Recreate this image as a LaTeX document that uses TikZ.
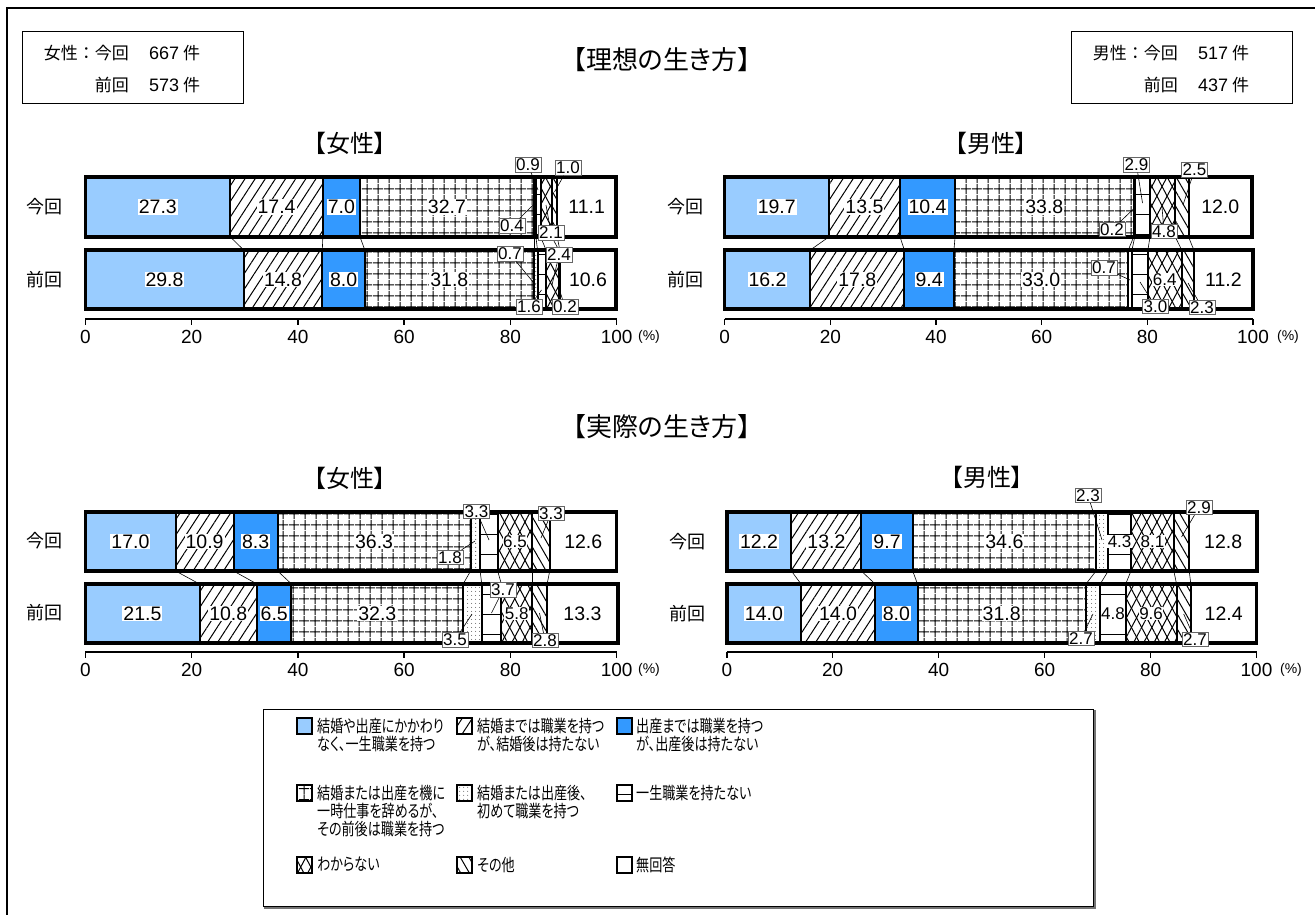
\documentclass[tikz,border=0pt]{standalone}
\usepackage{fontspec}
\setmainfont{Noto Sans CJK JP}[RawFeature=+palt]
\newfontfamily\jpf{Noto Sans CJK JP}
\newfontfamily\legf{Noto Sans CJK JP}[FakeStretch=0.77,RawFeature=+palt]
\newfontfamily\numf{Liberation Sans}
\usetikzlibrary{patterns.meta}
\definecolor{lblue}{HTML}{99CCFF}
\definecolor{dblue}{HTML}{3399FF}
\newcommand\fsz[1]{\fontsize{#1}{#1}\selectfont}
\tikzset{
 segbase/.style={draw=black,line width=2pt},
 seg1/.style={segbase,fill=lblue},
 seg2/.style={segbase,pattern={Lines[angle=57,distance=8.5pt,line width=1pt]}},
 seg3/.style={segbase,fill=dblue},
 seg4/.style={segbase,pattern={Hatch[angle=0,distance=10.5pt,line width=1pt]}},
 seg5/.style={segbase,pattern={Dots[distance=4pt,radius=0.5pt]}},
 seg6/.style={segbase,pattern={Lines[angle=0,distance=20pt,line width=1pt]}},
 seg7/.style={segbase,pattern={Lines[angle=62,distance=9pt,line width=1pt]},postaction={pattern={Lines[angle=-62,distance=9pt,line width=1pt]}}},
 seg8/.style={segbase,pattern={Lines[angle=-60,distance=7.5pt,line width=1pt]}},
 seg9/.style={segbase,fill=white},
 edge/.style={line width=3.5pt,line cap=rect},
 inlab/.style={fill=white,inner sep=1pt,font=\numf\fsz{19.5}},
 inlabs/.style={fill=white,inner sep=0.5pt,font=\numf\fsz{17}},
 callout/.style={draw=black!60,line width=0.9pt,fill=white,inner sep=1.2pt,font=\numf\fsz{17}},
 leader/.style={line width=0.6pt},
 link/.style={line width=0.6pt},
 ticklab/.style={font=\numf\fsz{19},inner sep=0pt},
 pctlab/.style={font=\numf\fsz{14},inner sep=0pt},
 ylab/.style={font=\jpf\fsz{18}},
 ttl/.style={font=\fsz{26}},
 sttl/.style={font=\fsz{24}},
 boxtxt/.style={font=\jpf\fsz{17},inner sep=0pt},
 infobox/.style={draw=black,line width=1.2pt,minimum width=221pt,minimum height=72pt,anchor=north west,inner sep=0pt},
 legsq/.style={minimum width=15pt,minimum height=16pt,inner sep=0pt,anchor=north west},
 legtxt/.style={font={\legf\fontsize{17}{18}\selectfont},align=left,inner sep=0pt,anchor=north west},
}
\newcommand\drawbar[6]{%
  \xdef\cumv{0}%
  \foreach \v/\fl [count=\i] in {#6} {%
    \pgfmathsetmacro\xa{#2+#3*\cumv}%
    \pgfmathsetmacro\newc{\cumv+\v}%
    \pgfmathsetmacro\xb{#2+#3*\newc}%
    \global\let\cumv\newc
    \edef\tmp{\noexpand\path[seg\i] (\xa,#4) rectangle (\xb,#5);}\tmp
    \draw[edge] (\xa,#4) -- (\xb,#4) (\xa,#5) -- (\xb,#5);
    \ifnum\i=1 \draw[edge] (\xa,#4) -- (\xa,#5);\fi
    \ifnum\i=9 \draw[edge] (\xb,#4) -- (\xb,#5);\fi
  }%
  \xdef\cumv{0}%
  \foreach \v/\fl [count=\i] in {#6} {%
    \pgfmathsetmacro\xa{#2+#3*\cumv}%
    \pgfmathsetmacro\newc{\cumv+\v}%
    \pgfmathsetmacro\xb{#2+#3*\newc}%
    \global\let\cumv\newc
    \ifnum\fl=1 \node[inlab] (#1-\i) at ({(\xa+\xb)/2},{(#4+#5)/2}) {\v};\fi
    \ifnum\fl=2 \node[inlabs] (#1-\i) at ({(\xa+\xb)/2},{(#4+#5)/2}) {\v};\fi
  }%
}
\newcommand\links[5]{%
  \foreach \a/\b in {#5} {\draw[link] ({#1+#2*\a},#3) -- ({#1+#2*\b},#4);}%
}
\newcommand\xaxis[5]{%
  \draw[line width=2.5pt] (#2,#4) -- ({#2+100*#3},#4);
  \foreach \t in {0,20,...,100} {%
    \draw[line width=1.5pt] ({#2+#3*\t},#4) -- ({#2+#3*\t},#4+6);
    \node[ticklab] (#1-t\t) at ({#2+#3*\t},#4+18) {\t};
  }%
  \node[pctlab] (#1-pct) at (#5,#4+18) {(\%)};
}
\begin{document}
\begin{tikzpicture}[x=1pt,y=-1pt]
\useasboundingbox (0,0) rectangle (1315,915);
\fill[white] (0,0) rectangle (1315,915);
\draw[line width=1.5pt] (7,915) -- (7,8) -- (1315,8);

% info boxes
\node[infobox] (wbox) at (22,31) {};
\node[boxtxt,anchor=east] (w1a) at (129,53) {女性：今回};
\node[boxtxt,anchor=west] (w1b) at (149,53) {{\numf\fsz{18}667} 件};
\node[boxtxt,anchor=east] (w2a) at (129,85) {前回};
\node[boxtxt,anchor=west] (w2b) at (149,85) {{\numf\fsz{18}573} 件};
\node[infobox] (mbox) at (1071,31) {};
\node[boxtxt,anchor=east] (m1a) at (1178,53) {男性：今回};
\node[boxtxt,anchor=west] (m1b) at (1198,53) {{\numf\fsz{18}517} 件};
\node[boxtxt,anchor=east] (m2a) at (1178,85) {前回};
\node[boxtxt,anchor=west] (m2b) at (1198,85) {{\numf\fsz{18}437} 件};

% titles
\node[ttl] (title1) at (662,60) {【理想の生き方】};
\node[sttl] (tlw) at (350,143) {【女性】};
\node[sttl] (trm) at (991,143) {【男性】};
\node[ttl] (title2) at (662,427) {【実際の生き方】};
\node[sttl] (blw) at (350,478) {【女性】};
\node[sttl] (brm) at (987,477) {【男性】};

% y labels
\node[ylab] (tly1) at (45,207) {今回};
\node[ylab] (tly2) at (45,280) {前回};
\node[ylab] (try1) at (685,207) {今回};
\node[ylab] (try2) at (685,280) {前回};
\node[ylab] (bly1) at (45,541) {今回};
\node[ylab] (bly2) at (45,613) {前回};
\node[ylab] (bry1) at (687,542) {今回};
\node[ylab] (bry2) at (687,614) {前回};

% bars
\drawbar{tla}{85.3}{5.314}{177}{237}{27.3/1,17.4/1,7.0/1,32.7/1,0.4/0,0.9/0,2.1/0,1.0/0,11.1/1}
\drawbar{tlb}{85.3}{5.314}{250}{309}{29.8/1,14.8/1,8.0/1,31.8/1,0.7/0,1.6/0,2.4/0,0.2/0,10.6/1}
\drawbar{tra}{724.7}{5.283}{177}{237}{19.7/1,13.5/1,10.4/1,33.8/1,0.2/0,2.9/0,4.8/0,2.5/0,12.0/1}
\drawbar{trb}{724.7}{5.283}{250}{309}{16.2/1,17.8/1,9.4/1,33.0/1,0.7/0,3.0/0,6.4/2,2.3/0,11.2/1}
\drawbar{bla}{85.3}{5.314}{512}{571}{17.0/1,10.9/1,8.3/1,36.3/1,1.8/0,3.3/0,6.5/2,3.3/0,12.6/1}
\drawbar{blb}{85.3}{5.314}{584}{643}{21.5/1,10.8/1,6.5/1,32.3/1,3.5/0,3.7/0,5.8/2,2.8/0,13.3/1}
\drawbar{bra}{726.8}{5.297}{512}{571}{12.2/1,13.2/1,9.7/1,34.6/1,2.3/0,4.3/2,8.1/2,2.9/0,12.8/1}
\drawbar{brb}{726.8}{5.297}{584}{643}{14.0/1,14.0/1,8.0/1,31.8/1,2.7/0,4.8/2,9.6/2,2.7/0,12.4/1}

% links between bars
\links{85.3}{5.314}{237}{250}{27.3/29.8,44.7/44.6,51.7/52.6,84.4/84.4,84.8/85.1,85.7/86.7,87.8/89.1,88.8/89.3}
\links{724.7}{5.283}{237}{250}{19.7/16.2,33.2/34.0,43.6/43.4,77.4/76.4,77.6/77.1,80.5/80.1,85.3/86.5,87.8/88.8}
\links{85.3}{5.314}{571}{584}{17.0/21.5,27.9/32.3,36.2/38.8,72.5/71.1,74.3/74.6,77.6/78.3,84.1/84.1,87.4/86.9}
\links{726.8}{5.297}{571}{584}{12.2/14.0,25.4/28.0,35.1/36.0,69.7/67.8,72.0/70.5,76.3/75.3,84.4/84.9,87.3/87.6}

% axes
\xaxis{tlx}{85.3}{5.314}{319}{649}
\xaxis{trx}{724.7}{5.283}{319}{1288}
\xaxis{blx}{85.3}{5.314}{652}{649}
\xaxis{brx}{726.8}{5.297}{652}{1291}

% callouts top-left
\node[callout] (tlc09) at (528,165) {0.9};
\node[callout] (tlc10) at (568,168) {1.0};
\node[callout] (tlc04) at (512,226) {0.4};
\node[callout] (tlc21) at (551,233) {2.1};
\node[callout] (tlc07) at (510,254) {0.7};
\node[callout] (tlc24) at (559,255) {2.4};
\node[callout] (tlc16) at (529,307) {1.6};
\node[callout] (tlc02) at (565,307) {0.2};
\coordinate (tlp09) at (538,190);
\coordinate (tlp10) at (554.5,192);
\coordinate (tlp04) at (535,203);
\coordinate (tlp21) at (546,205);
\coordinate (tlp07) at (535.5,285);
\coordinate (tlp24) at (552,285);
\coordinate (tlp16) at (541.5,290);
\coordinate (tlp02) at (559.5,290);
\foreach \n in {09,10,04,21,07,24,16,02} {\draw[leader] (tlc\n) -- (tlp\n);}

% callouts top-right
\node[callout] (trc29) at (1136.5,165) {2.9};
\node[callout] (trc25) at (1194.5,170) {2.5};
\node[callout] (trc02) at (1112,229.5) {0.2};
\node[callout] (trc48) at (1164,231.5) {4.8};
\node[callout] (trc07) at (1104,268) {0.7};
\node[callout] (trc30) at (1155.5,306.5) {3.0};
\node[callout] (trc23) at (1202,307.5) {2.3};
\coordinate (trp29) at (1142.5,203);
\coordinate (trp25) at (1183,205);
\coordinate (trp02) at (1134.5,208);
\coordinate (trp48) at (1162,207);
\coordinate (trp07) at (1130,280);
\coordinate (trp30) at (1140,282);
\coordinate (trp23) at (1188,283);
\foreach \n in {29,25,02,48,07,30,23} {\draw[leader] (trc\n) -- (trp\n);}

% callouts bottom-left
\node[callout] (blc18) at (450,557.5) {1.8};
\node[callout] (blc33a) at (476.5,511.5) {3.3};
\node[callout] (blc33b) at (551,513.5) {3.3};
\node[callout] (blc35) at (455,640) {3.5};
\node[callout] (blc37) at (503,590) {3.7};
\node[callout] (blc28) at (545,640.5) {2.8};
\coordinate (blp18) at (475,541);
\coordinate (blp33a) at (489,540);
\coordinate (blp33b) at (541,538);
\coordinate (blp35) at (472,614);
\coordinate (blp37) at (491.5,613);
\coordinate (blp28) at (539.5,613);
\foreach \n in {18,33a,33b,35,37,28} {\draw[leader] (blc\n) -- (blp\n);}

% callouts bottom-right
\node[callout] (brc23) at (1088,495.5) {2.3};
\node[callout] (brc29) at (1199,507.5) {2.9};
\node[callout] (brc27a) at (1081,638.5) {2.7};
\node[callout] (brc27b) at (1195,639.5) {2.7};
\coordinate (brp23) at (1102,540);
\coordinate (brp29) at (1181.5,537);
\coordinate (brp27a) at (1093,614);
\coordinate (brp27b) at (1183.7,614);
\foreach \n in {23,29,27a,27b} {\draw[leader] (brc\n) -- (brp\n);}

% legend
\node[draw=black,line width=1pt,minimum width=830pt,minimum height=197pt,anchor=north west,inner sep=0pt] (legbox) at (263,709) {};
\draw[black!55,line width=2pt] ([xshift=1pt,yshift=-1pt]legbox.south west) -- ([xshift=1pt,yshift=-1pt]legbox.south east) -- ([xshift=1pt,yshift=-1pt]legbox.north east);
\node[legsq,seg1] (lg1) at (296,717) {};
\node[legsq,seg2] (lg2) at (456,717) {};
\node[legsq,seg3] (lg3) at (616,717) {};
\node[legsq,seg4] (lg4) at (296,784) {};
\node[legsq,seg5] (lg5) at (456,784) {};
\node[legsq,seg6] (lg6) at (616,784) {};
\node[legsq,seg7] (lg7) at (296,856) {};
\node[legsq,seg8] (lg8) at (456,856) {};
\node[legsq,seg9] (lg9) at (616,856) {};
\node[legtxt] (lt1) at (317,718) {結婚や出産にかかわり\\なく、一生職業を持つ};
\node[legtxt] (lt2) at (477,718) {結婚までは職業を持つ\\が、結婚後は持たない};
\node[legtxt] (lt3) at (636,718) {出産までは職業を持つ\\が、出産後は持たない};
\node[legtxt] (lt4) at (317,785) {結婚または出産を機に\\一時仕事を辞めるが、\\その前後は職業を持つ};
\node[legtxt] (lt5) at (477,785) {結婚または出産後、\\初めて職業を持つ};
\node[legtxt] (lt6) at (636,785) {一生職業を持たない};
\node[legtxt] (lt7) at (317,857) {わからない};
\node[legtxt] (lt8) at (477,857) {その他};
\node[legtxt] (lt9) at (636,857) {無回答};
\end{tikzpicture}
\end{document}
